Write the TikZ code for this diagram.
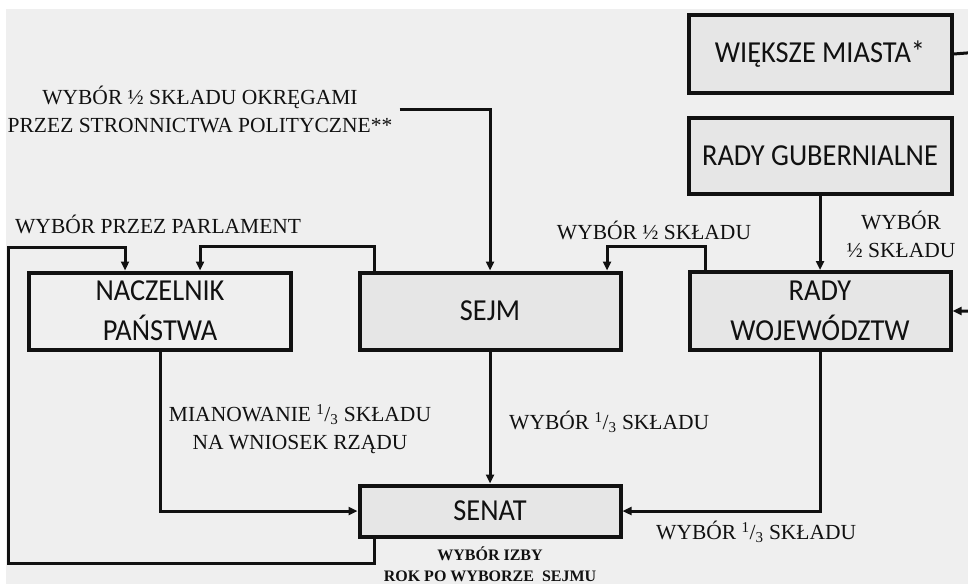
\documentclass[tikz,border=0pt]{standalone}
\usepackage{fontspec}
\setmainfont{Liberation Serif}
\newfontfamily\boxfont[FakeStretch=0.93]{Carlito}
\usetikzlibrary{arrows.meta}
\definecolor{bgc}{HTML}{EFEFEF}
\definecolor{boxc}{HTML}{E6E6E6}
\definecolor{inkc}{HTML}{111111}
\tikzset{
  blk/.style={draw=inkc, line width=4pt, fill=boxc, inner sep=0pt, align=center,
    font=\boxfont\fontsize{30.5}{40}\selectfont, text=inkc},
  conn/.style={draw=inkc, line width=3pt, -{Triangle[length=9pt,width=8pt]}},
  lab/.style={font=\fontsize{21.5}{28}\selectfont, text=inkc, align=center, inner sep=0pt},
  blab/.style={font=\bfseries\fontsize{16}{21}\selectfont, text=inkc, align=center, inner sep=0pt}
}
\newcommand{\third}{\textsuperscript{1}/\textsubscript{3}}
\begin{document}
\begin{tikzpicture}[x=1pt,y=-1pt]
\clip (0,0) rectangle (968,584);
\fill[white] (0,0) rectangle (968,584);
\fill[bgc] (6,9) rectangle (968,584);
% boxes
\node[blk, minimum width=263pt, minimum height=78pt] (WM) at (820,54) {WIĘKSZE MIASTA*};
\node[blk, minimum width=263pt, minimum height=76pt] (RG) at (820,156) {RADY GUBERNIALNE};
\node[blk, fill=bgc, minimum width=262pt, minimum height=77pt] (N) at (160,311) {NACZELNIK\\PAŃSTWA};
\node[blk, minimum width=261pt, minimum height=77pt] (S) at (490,311) {SEJM};
\node[blk, minimum width=261pt, minimum height=78pt] (RW) at (820,311) {RADY\\WOJEWÓDZTW};
\node[blk, minimum width=261pt, minimum height=51pt] (SEN) at (490,511) {SENAT};
% labels
\node[lab, inner xsep=7pt] (L1) at (200,109) {WYBÓR ½ SKŁADU OKRĘGAMI\\PRZEZ STRONNICTWA POLITYCZNE**};
\node[lab, anchor=west] (L2) at (15,224) {WYBÓR PRZEZ PARLAMENT};
\node[lab] (L3) at (654,230) {WYBÓR ½ SKŁADU};
\node[lab] (L4) at (901,234) {WYBÓR\\½ SKŁADU};
\node[lab] (L5) at (300,429) {MIANOWANIE \third{} SKŁADU\\NA WNIOSEK RZĄDU};
\node[lab, anchor=west] (L6) at (509,422) {WYBÓR \third{} SKŁADU};
\node[lab, anchor=west] (L7) at (656,532) {WYBÓR \third{} SKŁADU};
\node[blab] (L8) at (490,564) {WYBÓR IZBY\\ROK PO WYBORZE\ \ SEJMU};
% connectors
\coordinate (l1) at (8,563);
\coordinate (l2) at (8,247);
\draw[conn] ([xshift=-116pt]SEN.south) |- (l1) -- (l2) -| ([xshift=-35pt]N.north);
\draw[conn] ([xshift=-116pt]S.north) -- ++(0,-24) -| ([xshift=40pt]N.north);
\draw[conn] (L1.east) -| (S.north);
\draw[conn] ([xshift=-115pt]RW.north) -- ++(0,-24) -| ([xshift=117pt]S.north);
\draw[conn] (RG.south) -- (RW.north);
\coordinate (rc) at (980,52);
\draw[conn] (WM.east) -- (rc) |- (RW.east);
\draw[conn] (N.south) |- (SEN.west);
\draw[conn] (S.south) -- (SEN.north);
\draw[conn] (RW.south) |- (SEN.east);
\end{tikzpicture}
\end{document}
